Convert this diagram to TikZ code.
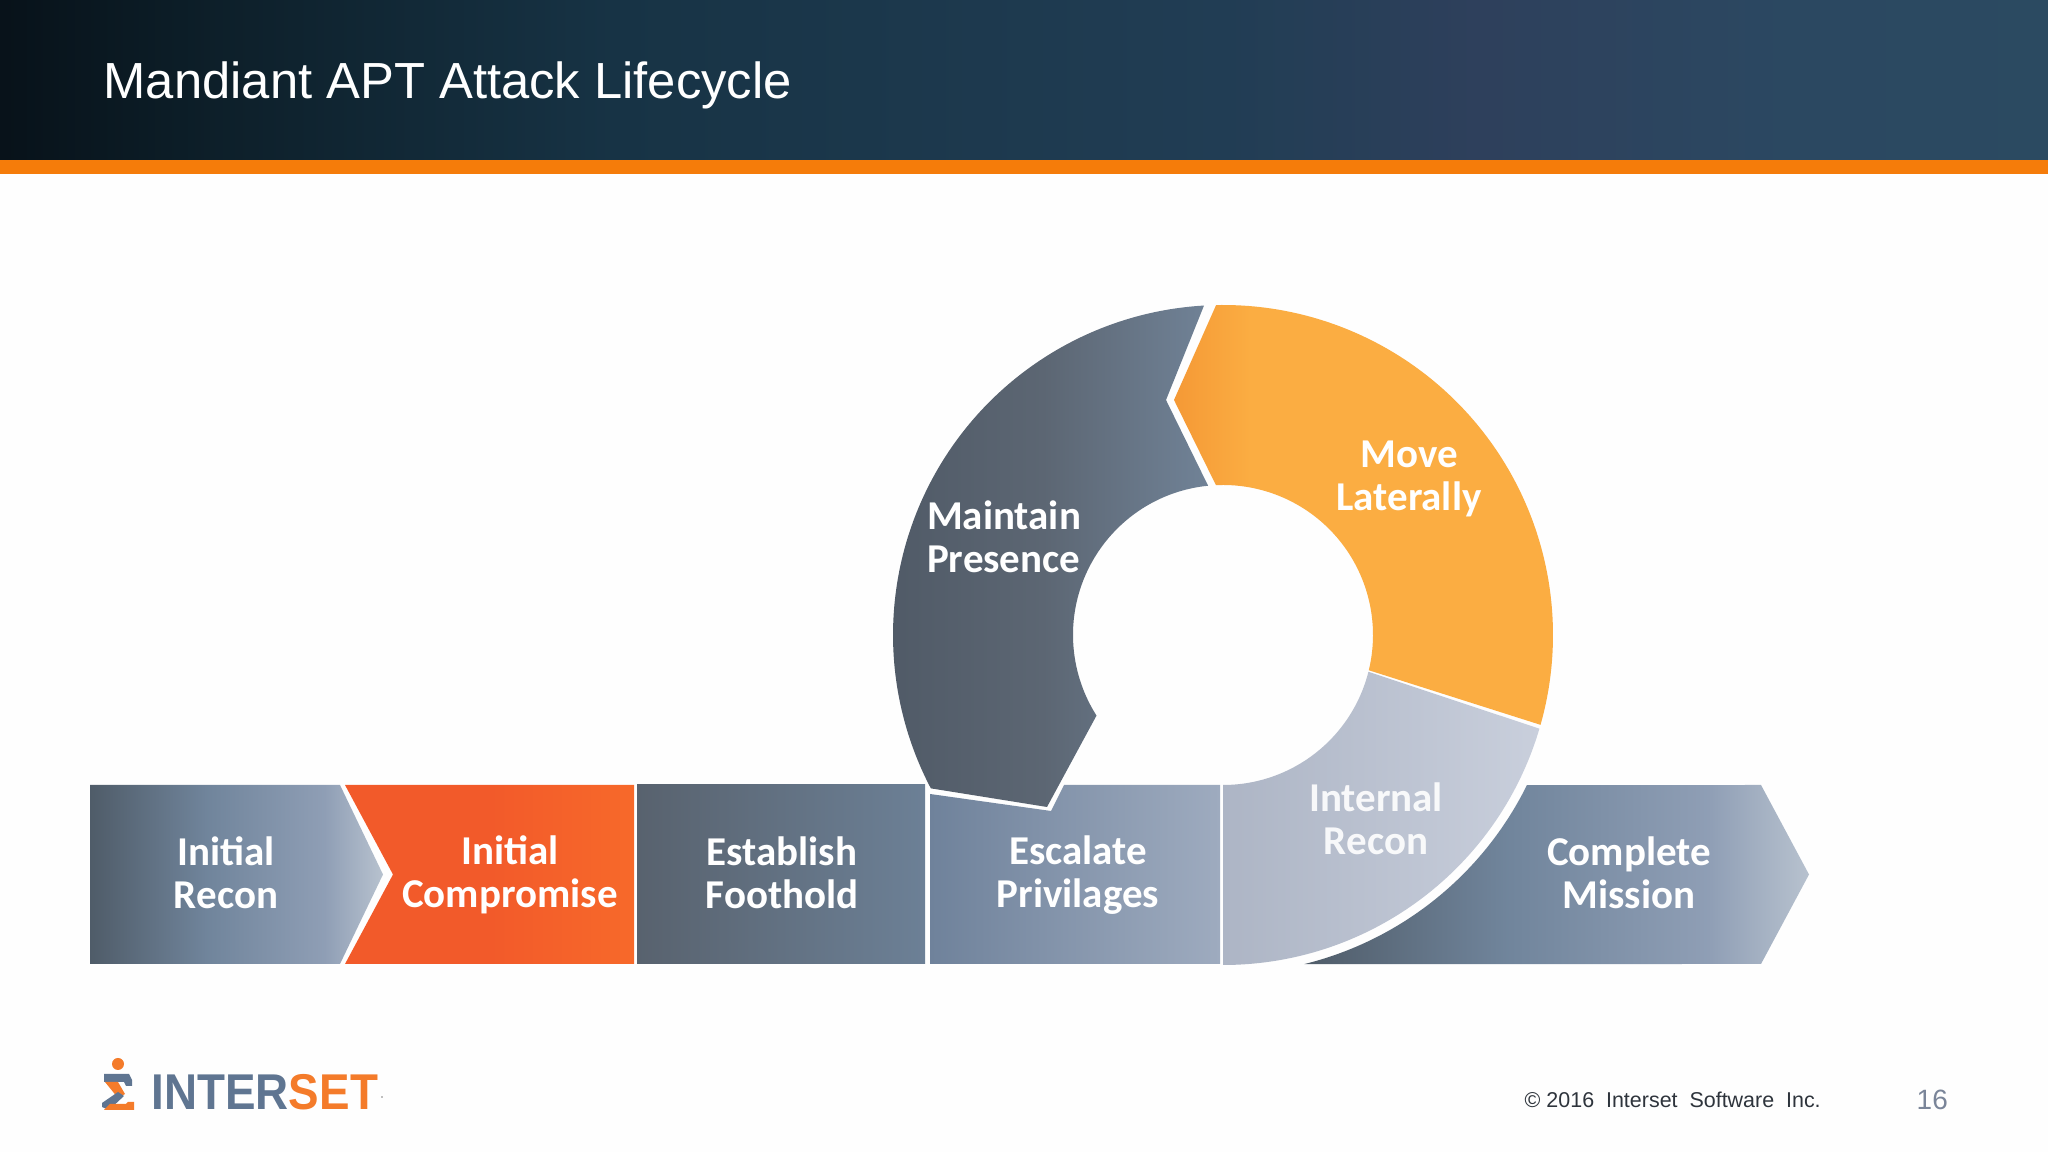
\documentclass[tikz,border=0pt]{standalone}
\usepackage{fontspec}
\setmainfont{Liberation Sans}
\newfontfamily\calibri{Carlito}
\usepackage{tikz}
\definecolor{barorange}{HTML}{F57C0A}
\definecolor{logoslate}{HTML}{5F7591}
\definecolor{logoorange}{HTML}{F47B2A}
\definecolor{pagenum}{HTML}{7A8599}
\definecolor{footgray}{HTML}{2E343C}
\pgfdeclarehorizontalshading{headershade}{100bp}{
  rgb(0bp)=(0.03,0.07,0.10);
  rgb(25bp)=(0.03,0.07,0.10);
  rgb(30bp)=(0.05,0.12,0.16);
  rgb(40bp)=(0.09,0.20,0.27);
  rgb(55bp)=(0.13,0.24,0.33);
  rgb(61bp)=(0.18,0.25,0.36);
  rgb(68bp)=(0.17,0.28,0.38);
  rgb(75bp)=(0.17,0.29,0.38);
  rgb(100bp)=(0.17,0.29,0.38)}
\pgfdeclarehorizontalshading{steelshade}{100bp}{
  rgb(0bp)=(0.31,0.36,0.41);
  rgb(25bp)=(0.31,0.36,0.41);
  rgb(45bp)=(0.44,0.52,0.61);
  rgb(65bp)=(0.56,0.62,0.71);
  rgb(75bp)=(0.72,0.76,0.81);
  rgb(100bp)=(0.72,0.76,0.81)}
\pgfdeclarehorizontalshading{moveshade}{100bp}{
  rgb(0bp)=(0.96,0.60,0.21);
  rgb(25bp)=(0.96,0.60,0.21);
  rgb(35bp)=(0.985,0.68,0.26);
  rgb(100bp)=(0.985,0.68,0.26)}
\pgfdeclarehorizontalshading{keepshade}{100bp}{
  rgb(0bp)=(0.31,0.35,0.40);
  rgb(25bp)=(0.31,0.35,0.40);
  rgb(50bp)=(0.36,0.40,0.45);
  rgb(75bp)=(0.44,0.51,0.59);
  rgb(100bp)=(0.44,0.51,0.59)}
\tikzstyle{steplabel}=[text=white,align=center,font=\calibri\bfseries\fontsize{11.65}{12.1}\selectfont]
\begin{document}
\begin{tikzpicture}[x=0.01cm,y=0.01cm]
    \useasboundingbox (0,0) rectangle (2048,1152);
    \fill[white!99.5!black] (0,0) rectangle (2048,1152);
    % header
    \shade[shading=headershade] (0,992) rectangle (2048,1152);
    \fill[barorange] (0,978) rectangle (2048,992);
    \node[anchor=base west,text=white,inner sep=0pt,font=\fontsize{14.43}{16}\selectfont](title) at (103,1053){Mandiant APT Attack Lifecycle};
    % band
    \shade[shading=steelshade] (90,367) -- (340,367) -- (383,277.5) -- (340,188) -- (90,188) -- cycle;
    \shade[left color={rgb,255:red,242;green,90;blue,42},right color={rgb,255:red,247;green,105;blue,42},middle color={rgb,255:red,242;green,90;blue,42}] (345,367) -- (634,367) -- (634,188) -- (345,188) -- (393,277.5) -- cycle;
    \shade[left color={rgb,255:red,88;green,98;blue,110},right color={rgb,255:red,108;green,128;blue,150}] (637,367) rectangle (925,188);
    \shade[left color={rgb,255:red,111;green,130;blue,155},right color={rgb,255:red,158;green,171;blue,191}] (930,358) -- (1051,341) -- (1064,367) -- (1220,367) -- (1220,188) -- (930,188) -- cycle;
    \begin{scope}[shift={(1223,517)}]
      \shade[shading=steelshade] (-26.3:339) arc[start angle=-26.3,end angle=-76.1,radius=339] -- (538,-329) -- (586,-239.5) -- (538,-150) -- cycle;
      \shade[left color={rgb,255:red,173;green,181;blue,197},right color={rgb,255:red,201;green,207;blue,220}] (-16.5:330) arc[start angle=-16.5,end angle=-90,radius=330] -- (0,-150) arc[start angle=-90,end angle=-14.2,radius=150] -- cycle;
      \shade[shading=moveshade] (91.2:330) arc[start angle=91.2,end angle=-15.8,radius=330] -- (-13.6:150) arc[start angle=-13.6,end angle=92.7,radius=150] -- (-49,235) -- cycle;
      \shade[shading=keepshade] (207.7:330) arc[start angle=207.7,end angle=93.3,radius=330] -- (-57,235) -- (95.7:150) arc[start angle=95.7,end angle=212.5,radius=150] -- (-176,-172) -- cycle;
    \end{scope}
    % labels
    \node[steplabel](n1) at (226,279){Initial\\Recon};
    \node[steplabel](n2) at (510,277){Initial\\Compromise};
    \node[steplabel](n3) at (782,279){Establish\\Foothold};
    \node[steplabel](n4) at (1078,277){Escalate\\Privilages};
    \node[steplabel,opacity=0.9](n5) at (1376,333){Internal\\Recon};
    \node[steplabel](n6) at (1629,279){Complete\\Mission};
    \node[steplabel,align=left](n7) at (1004,615){Maintain\\Presence};
    \node[steplabel](n8) at (1409,673){Move\\Laterally};
    % logo
    \fill[logoorange] (118,88) circle (6);
    \fill[logoslate] (104,78) -- (129,78) -- (132,72) -- (132,66) -- (126,66) -- (124,70) -- (104,70) -- cycle;
    \fill[logoorange] (105,70) -- (118,70) -- (125,58) -- (118,54) -- cycle;
    \fill[logoslate] (118,60) -- (124,56) -- (109,42) -- (102,45) -- (102,49) -- cycle;
    \fill[logoorange] (104,42) -- (134,42) -- (134,50) -- (128,50) -- (126,48) -- (110,48) -- cycle;
    \node[anchor=base west,inner sep=0pt,font=\bfseries\fontsize{14.3}{16}\selectfont](logotext) at (151,42){\scalebox{0.91}[1]{\textcolor{logoslate}{INTER}\textcolor{logoorange}{SET}}};
    \fill[gray] (382,55) circle (0.8);
    % footer
    \node[anchor=base west,inner sep=0pt,text=footgray,font=\fontsize{6.1}{8}\selectfont](copyright) at (1524,44){© 2016\ \ Interset\ \ Software\ \ Inc.};
    \node[anchor=base west,inner sep=0pt,text=pagenum,font=\fontsize{7.95}{10}\selectfont](pageno) at (1916,42.5){16};
\end{tikzpicture}
\end{document}
